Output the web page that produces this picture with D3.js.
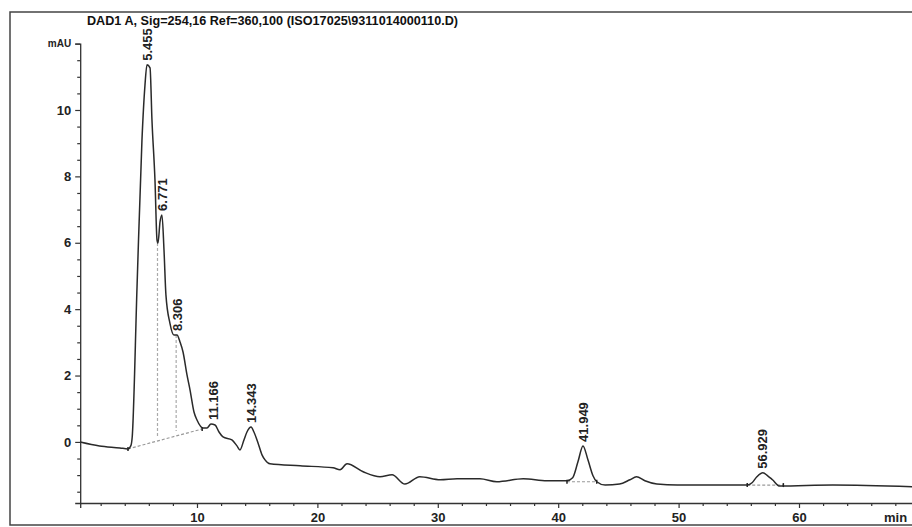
<!DOCTYPE html>
<html>
<head>
<meta charset="utf-8">
<script src="https://cdn.jsdelivr.net/npm/d3@7"></script>
<style>
  body { margin: 0; background: #fff; }
  svg { display: block; font-family: "Liberation Sans", Arial, sans-serif; }
</style>
</head>
<body>
<svg id="chart" width="912" height="527"></svg>
<script>
// retention time (min) and signal (mAU)
const times = [0.3, 1.9, 3.6, 4.27, 4.5, 4.62, 5.02, 5.43, 5.68, 5.85, 6.1, 6.26, 6.51, 6.68, 6.76, 6.93, 7.09, 7.26, 7.42, 7.75,
  8.09, 8.34, 8.59, 8.84, 9.17, 9.42, 9.75, 10.0, 10.5, 10.83, 11.16, 11.5, 11.83, 12.16, 12.9, 13.32, 13.57, 13.9, 14.15, 14.49,
  14.73, 15.07, 15.4, 15.65, 16.06, 18.56, 21.3, 21.88, 22.46, 23.8, 25.2, 26.2, 27.27, 28.5, 30.2, 31.6, 33.5, 34.9, 37.1, 39.07,
  40.73, 41.2, 41.64, 42.06, 42.47, 42.89, 43.2, 43.9, 45.1, 45.96, 46.5, 47.2, 48.2, 49.9, 51.8, 55.7, 56.1, 56.5, 57.0, 57.4,
  57.8, 58.4, 62.8, 70];
const signal = [0, -0.12, -0.18, -0.21, -0.12, 0.15, 4.67, 9.10, 10.75, 11.36, 11.27, 9.70, 7.89, 6.08, 5.99, 6.63, 6.84, 5.78, 4.43, 3.58,
  3.22, 3.22, 3.01, 2.71, 2.02, 1.57, 0.90, 0.66, 0.42, 0.42, 0.54, 0.51, 0.30, 0.15, 0.06, -0.12, -0.24, 0.06, 0.30, 0.45,
  0.30, -0.03, -0.39, -0.54, -0.66, -0.72, -0.78, -0.84, -0.66, -0.90, -1.05, -0.99, -1.27, -1.05, -1.14, -1.11, -1.11, -1.20, -1.11, -1.17,
  -1.17, -1.08, -0.60, -0.12, -0.54, -1.02, -1.20, -1.30, -1.27, -1.14, -1.05, -1.17, -1.27, -1.30, -1.30, -1.30, -1.23, -1.05, -0.93, -1.02,
  -1.14, -1.33, -1.30, -1.36];

// peak labels and where they sit on the trace
const peakLabels = ["5.455", "6.771", "8.306", "11.166", "14.343", "41.949", "56.929"];
const peakTimes = [5.85, 7.09, 8.4, 11.4, 14.49, 42.06, 57.0];
const peakHeights = [11.36, 6.84, 3.22, 0.54, 0.45, -0.12, -0.93];

// integration baselines [t0, v0, t1, v1] and drop lines [t, top, bottom]
const baselines = [[4.27, -0.21, 10.43, 0.39], [40.73, -1.20, 43.2, -1.20], [55.7, -1.30, 58.7, -1.30]];
const dropLines = [[6.72, 5.99, 0.16], [8.27, 3.22, 0.33]];

const yMajor = [0, 2, 4, 6, 8, 10, 12];
const xMajor = [10, 20, 30, 40, 50, 60];
const title = "DAD1 A, Sig=254,16 Ref=360,100 (ISO17025\\9311014000110.D)";

const svg = d3.select("#chart");

// outer frame (runs past right edge)
svg.append("rect")
  .attr("x", 10).attr("y", 12)
  .attr("width", 1000).attr("height", 513)
  .attr("fill", "none").attr("stroke", "#444").attr("stroke-width", 1.5);

const x = d3.scaleLinear().domain([0.3, 70]).range([80.2, 919.4]);
const y = d3.scaleLinear().domain([-1.84, 12]).range([503, 43.6]);

// Y axis
const yAxis = svg.append("g").attr("transform", "translate(" + x(0.3) + ",0)")
  .call(d3.axisLeft(y).tickValues(yMajor).tickSize(5).tickPadding(4)
    .tickFormat(d => d === 12 ? "mAU" : d));
yAxis.selectAll("text").attr("font-weight", "bold").attr("font-size", d => d === 12 ? 10 : 13).attr("fill", "#222");
yAxis.select(".domain").attr("stroke", "#333").attr("stroke-width", 1.3);
yAxis.selectAll(".tick line").attr("stroke", "#333").attr("stroke-width", 1.2);

const yMinor = d3.range(-1.5, 12, 0.5).filter(v => v % 2 !== 0);
svg.append("g").attr("transform", "translate(" + x(0.3) + ",0)")
  .call(d3.axisLeft(y).tickValues(yMinor).tickSize(3).tickFormat(""))
  .call(g => g.select(".domain").remove())
  .selectAll("line").attr("stroke", "#333").attr("stroke-width", 1.2);

// X axis
const xAxis = svg.append("g").attr("transform", "translate(0," + y(-1.84) + ")")
  .call(d3.axisBottom(x).tickValues(xMajor).tickSize(5).tickPadding(5));
xAxis.selectAll("text").attr("font-weight", "bold").attr("font-size", 13).attr("fill", "#222");
xAxis.select(".domain").attr("stroke", "#333").attr("stroke-width", 1.3);
xAxis.selectAll(".tick line").attr("stroke", "#333").attr("stroke-width", 1.2);

const xMinor = d3.range(2, 70, 2).filter(v => v % 10 !== 0);
svg.append("g").attr("transform", "translate(0," + y(-1.84) + ")")
  .call(d3.axisBottom(x).tickValues(xMinor).tickSize(3).tickFormat(""))
  .call(g => g.select(".domain").remove())
  .selectAll("line").attr("stroke", "#333").attr("stroke-width", 1.2);

svg.append("text")
  .attr("x", 884).attr("y", 522)
  .attr("font-size", 13).attr("font-weight", "bold").attr("fill", "#222")
  .text("min");

// title
svg.append("text")
  .attr("x", 87).attr("y", 25)
  .attr("font-size", 12).attr("font-weight", "bold").attr("fill", "#111")
  .attr("textLength", 371).attr("lengthAdjust", "spacingAndGlyphs")
  .text(title);

// baselines and drop lines
svg.append("g").selectAll("line")
  .data(baselines)
  .join("line")
  .attr("x1", d => x(d[0])).attr("y1", d => y(d[1]))
  .attr("x2", d => x(d[2])).attr("y2", d => y(d[3]))
  .attr("stroke", "#999").attr("stroke-width", 1.2).attr("stroke-dasharray", "3,2");

svg.append("g").selectAll("line")
  .data(dropLines)
  .join("line")
  .attr("x1", d => x(d[0])).attr("y1", d => y(d[1]))
  .attr("x2", d => x(d[0])).attr("y2", d => y(d[2]))
  .attr("stroke", "#aaa").attr("stroke-width", 1.2).attr("stroke-dasharray", "3,2");

// trace
const line = d3.line()
  .x((d, i) => x(times[i]))
  .y(d => y(d))
  .curve(d3.curveMonotoneX);

svg.append("path")
  .datum(signal)
  .attr("d", line)
  .attr("fill", "none")
  .attr("stroke", "#2a2a2a")
  .attr("stroke-width", 1.5);

// little markers at baseline ends
const markers = baselines.flatMap(b => [[b[0], b[1]], [b[2], b[3]]]);
svg.append("g").selectAll("line")
  .data(markers)
  .join("line")
  .attr("x1", d => x(d[0])).attr("y1", d => y(d[1]) - 2)
  .attr("x2", d => x(d[0])).attr("y2", d => y(d[1]) + 2)
  .attr("stroke", "#222").attr("stroke-width", 1.5);

// peak labels, rotated
svg.append("g").selectAll("text")
  .data(peakLabels)
  .join("text")
  .attr("transform", (d, i) => "translate(" + x(peakTimes[i]) + "," + (y(peakHeights[i]) - 4) + ") rotate(-90)")
  .attr("dy", "0.35em")
  .attr("font-size", 13).attr("font-weight", "bold").attr("fill", "#222")
  .text(d => d);
</script>
</body>
</html>
